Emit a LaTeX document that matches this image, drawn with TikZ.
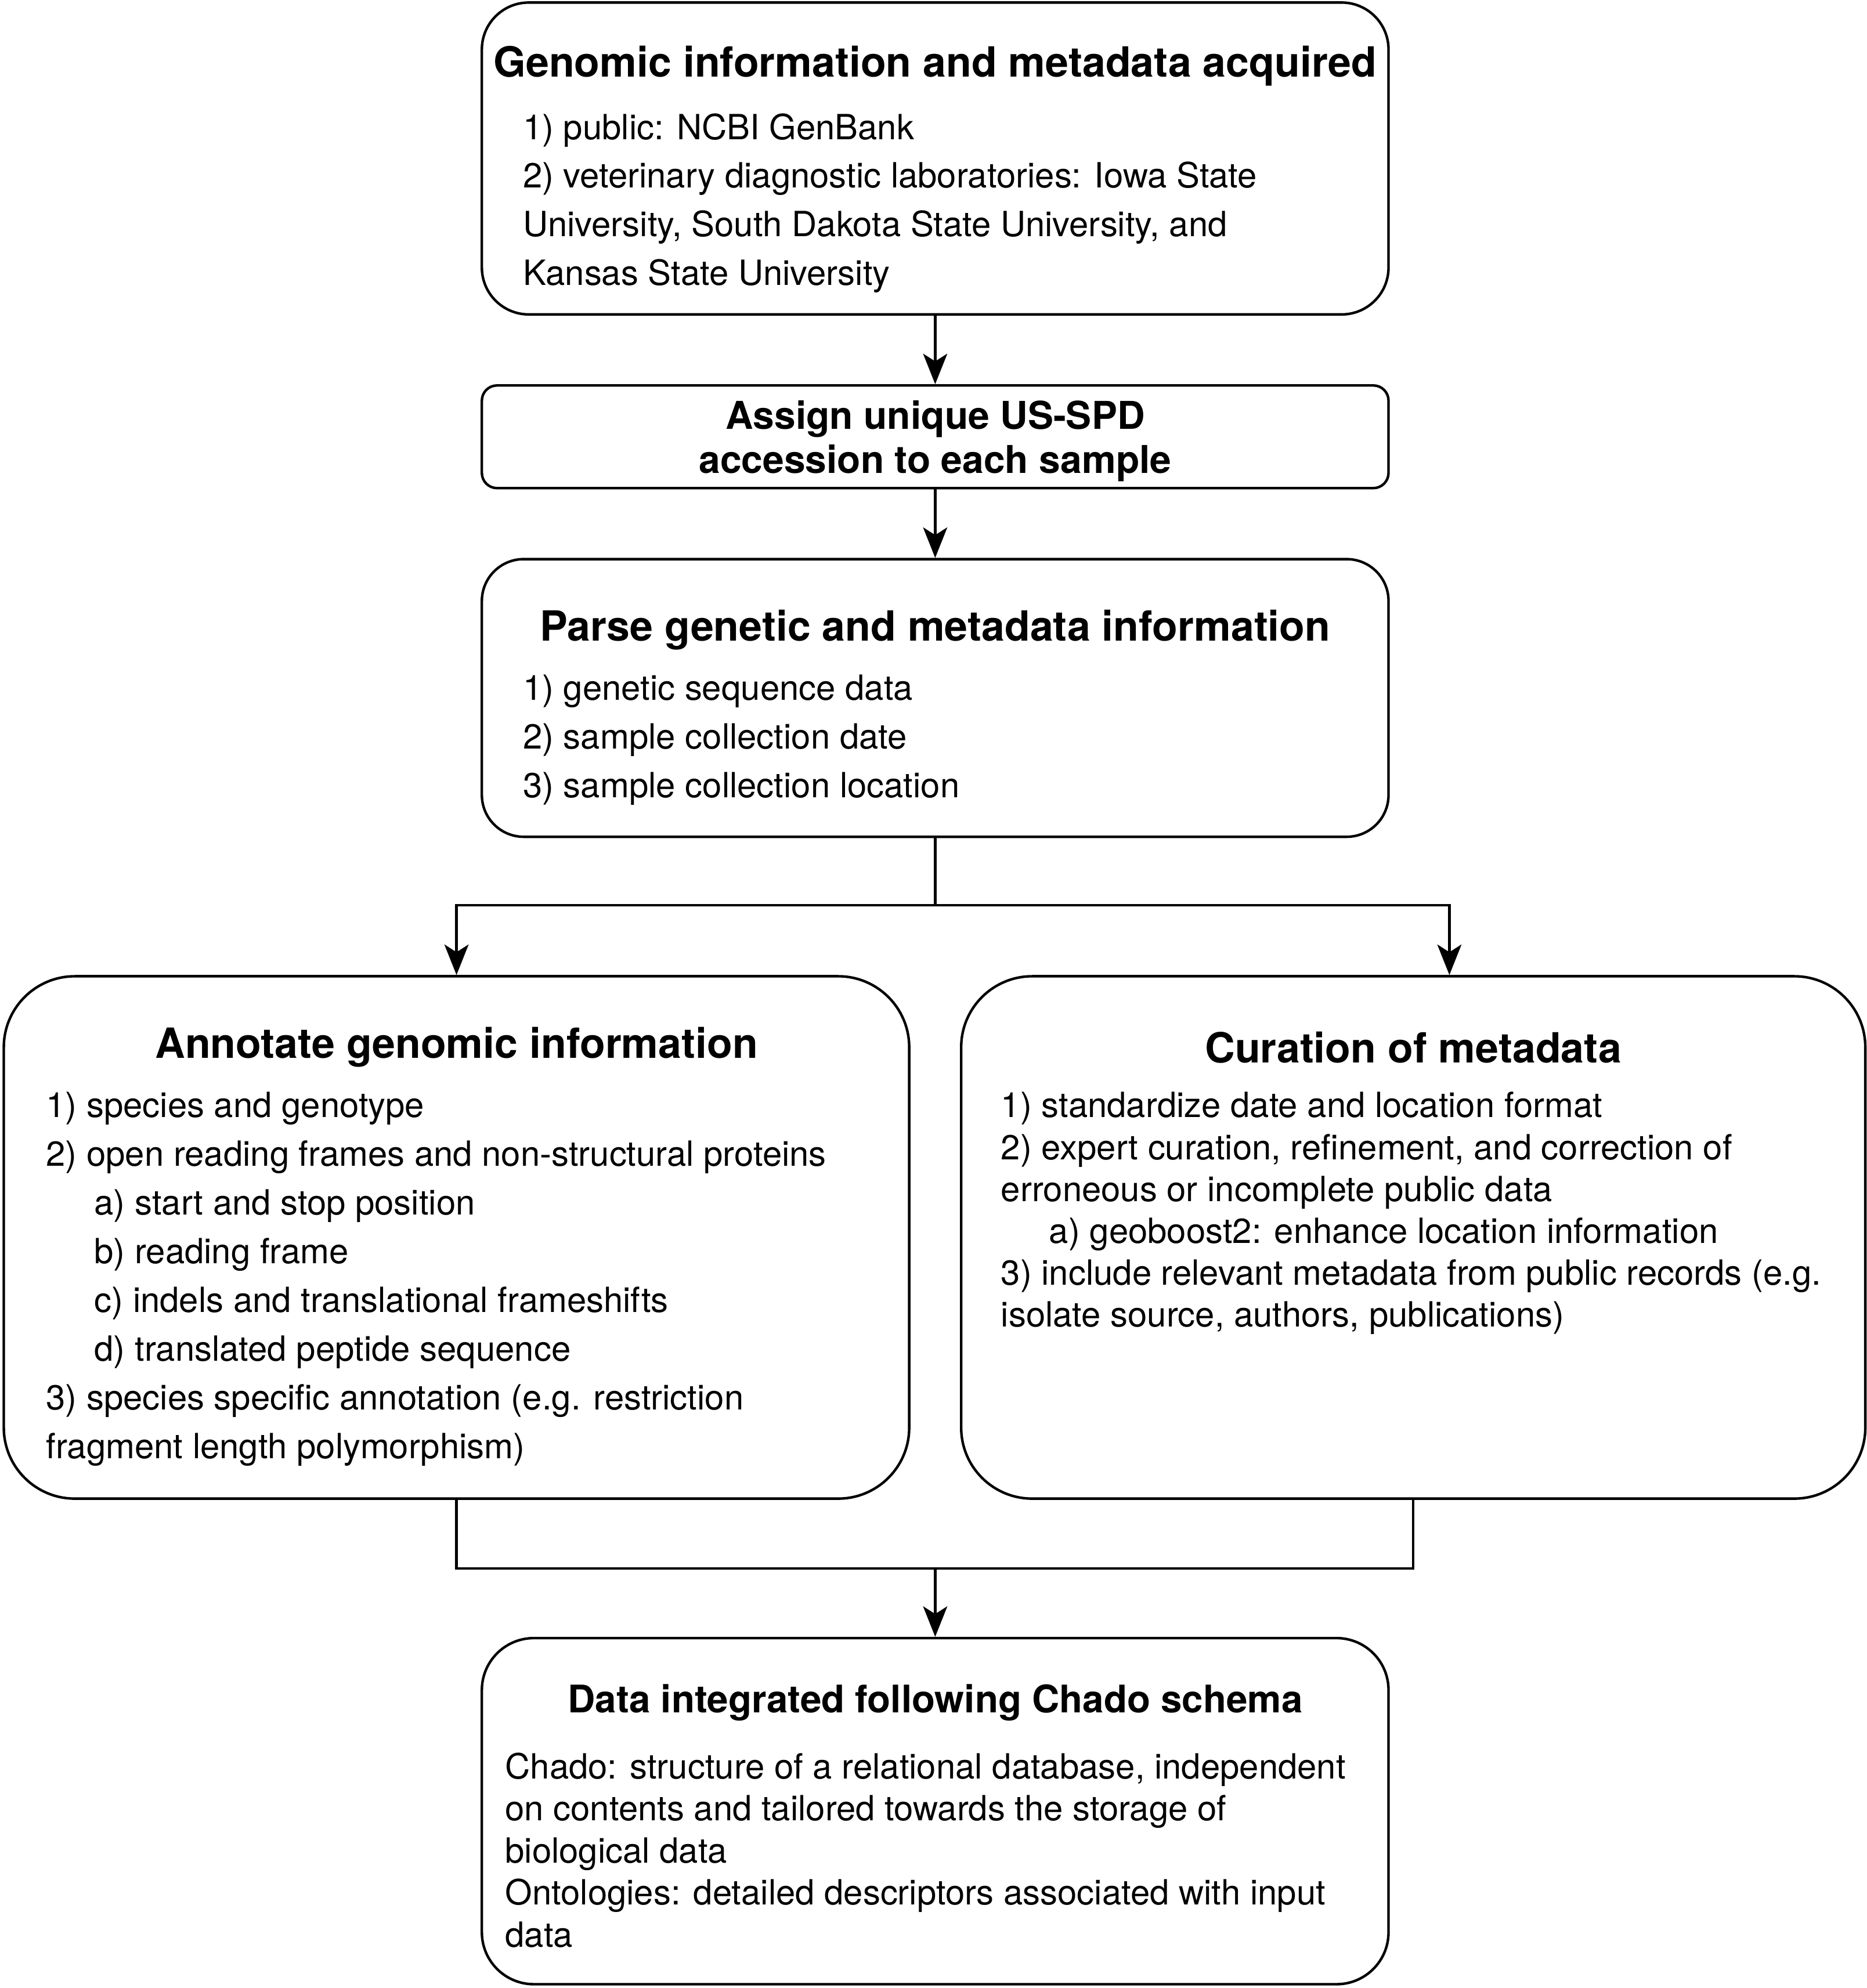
\documentclass[tikz,border=0pt]{standalone}
\usepackage{fontspec}
\setmainfont{TeX Gyre Heros}
\usetikzlibrary{arrows.meta}

\begin{document}
\begin{tikzpicture}[x=0.5pt,y=-0.5pt]
    \tikzset{block/.style = {shape=rectangle, draw, line width=1pt, rounded corners=#1, inner sep=0pt}}
    \tikzset{heading/.style = {font=\fontsize{16.4}{19}\selectfont\bfseries, inner sep=0pt}}
    \tikzset{items/.style = {font=\fontsize{13.7}{19.2}\selectfont, align=left, anchor=north west, inner sep=0pt}}
    \tikzset{wire/.style = {draw, line width=1pt}}
    \tikzset{link/.style = {wire, -{Stealth[length=12pt,width=9.5pt,inset=3pt]}}}

    \useasboundingbox (0,0) rectangle (1472,1568);

    % boxes
    \node[block=18.5pt, minimum width=357.5pt, minimum height=123pt] (acquire) at (737.5,125) {};
    \node[block=6pt, minimum width=357.5pt, minimum height=40.5pt] (assign) at (737.5,344.5) {};
    \node[block=16.5pt, minimum width=357.5pt, minimum height=109.5pt] (parse) at (737.5,550.5) {};
    \node[block=28pt, minimum width=357pt, minimum height=206pt] (annotate) at (360,976) {};
    \node[block=28pt, minimum width=356.5pt, minimum height=206pt] (curate) at (1114.5,976) {};
    \node[block=20.5pt, minimum width=357.5pt, minimum height=136.5pt] (chado) at (737.5,1428.5) {};

    % text
    \node[heading] (acquireT) at (737.5,52) {Genomic information and metadata acquired};
    \node[items] (acquireL) at (412,89) {1) public: NCBI GenBank\\
        2) veterinary diagnostic laboratories: Iowa State\\
        University, South Dakota State University, and\\
        Kansas State University};

    \node[heading, font=\fontsize{15.1}{17.5}\selectfont\bfseries, align=center] (assignT) at (737.5,348) {Assign unique US-SPD\\accession to each sample};

    \node[heading] (parseT) at (737.5,497) {Parse genetic and metadata information};
    \node[items] (parseL) at (412,532) {1) genetic sequence data\\
        2) sample collection date\\
        3) sample collection location};

    \node[heading] (annotateT) at (360,826) {Annotate genomic information};
    \node[items] (annotateL) at (36,861) {1) species and genotype\\
        2) open reading frames and non-structural proteins\\
        \hspace*{19pt}a) start and stop position\\
        \hspace*{19pt}b) reading frame\\
        \hspace*{19pt}c) indels and translational frameshifts\\
        \hspace*{19pt}d) translated peptide sequence\\
        3) species specific annotation (e.g. restriction\\
        fragment length polymorphism)};

    \node[heading] (curateT) at (1114.5,826) {Curation of metadata};
    \node[items, font=\fontsize{13.7}{16.5}\selectfont] (curateL) at (789,861) {1) standardize date and location format\\
        2) expert curation, refinement, and correction of\\
        erroneous or incomplete public data\\
        \hspace*{19pt}a) geoboost2: enhance location information\\
        3) include relevant metadata from public records (e.g.\\
        isolate source, authors, publications)};

    \node[heading, font=\fontsize{15}{18}\selectfont\bfseries] (chadoT) at (737.5,1343) {Data integrated following Chado schema};
    \node[items, font=\fontsize{13.7}{16.6}\selectfont] (chadoL) at (398,1382) {Chado: structure of a relational database, independent\\
        on contents and tailored towards the storage of\\
        biological data\\
        Ontologies: detailed descriptors associated with input\\
        data};

    % arrows
    \coordinate (split) at (737.5,714);
    \coordinate (join) at (737.5,1237);
    \draw[link] (acquire) -- (assign);
    \draw[link] (assign) -- (parse);
    \draw[wire] (parse) -- (split);
    \draw[link] (split) -| (annotate);
    \draw[link] (split) -| ([xshift=14.25pt]curate.north);
    \draw[wire] (annotate) |- (join);
    \draw[wire] (curate) |- (join);
    \draw[link] (join) -- (chado);
\end{tikzpicture}
\end{document}
